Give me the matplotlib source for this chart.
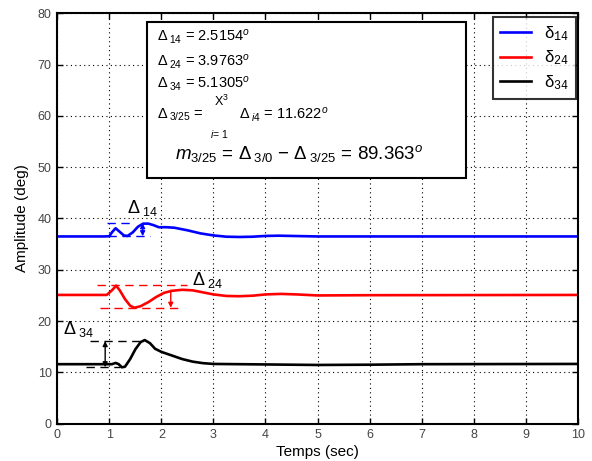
import matplotlib
matplotlib.use("Agg")
import matplotlib.pyplot as plt
from matplotlib.patches import Rectangle

plt.rcParams['font.family'] = ['Liberation Sans', 'DejaVu Sans']
plt.rcParams['mathtext.fontset'] = 'custom'
plt.rcParams['mathtext.rm'] = 'Liberation Sans'
plt.rcParams['mathtext.it'] = 'Liberation Sans:italic'
plt.rcParams['mathtext.bf'] = 'Liberation Sans:bold'
plt.rcParams['mathtext.tt'] = 'Liberation Mono'

# ---- data ----
t_blue = [0, 0.9, 1.0, 1.05, 1.12, 1.2, 1.28, 1.35, 1.45, 1.55, 1.65, 1.75, 1.85, 1.95,
          2.1, 2.25, 2.5, 2.75, 3.0, 3.25, 3.5, 3.75, 4.0, 4.25, 4.5, 5.0, 6.0, 10.0]
d14 = [36.5, 36.5, 36.55, 37.3, 38.1, 37.4, 36.7, 36.6, 37.3, 38.4, 39.0, 39.0, 38.7, 38.3,
       38.3, 38.2, 37.7, 37.1, 36.7, 36.45, 36.4, 36.45, 36.6, 36.65, 36.6, 36.5, 36.5, 36.5]

t_red = [0, 0.95, 1.05, 1.13, 1.2, 1.3, 1.4, 1.48, 1.6, 1.75, 1.9, 2.05, 2.2, 2.4, 2.6,
         2.8, 3.0, 3.25, 3.5, 3.75, 4.0, 4.3, 4.6, 5.0, 6.0, 10.0]
d24 = [25.1, 25.1, 26.0, 26.9, 26.0, 24.3, 23.0, 22.6, 22.9, 23.7, 24.7, 25.5, 25.9, 26.1, 26.0,
       25.6, 25.2, 24.9, 24.85, 24.95, 25.2, 25.3, 25.2, 25.0, 25.05, 25.1]

t_black = [0, 1.05, 1.12, 1.18, 1.24, 1.3, 1.4, 1.5, 1.6, 1.68, 1.78, 1.88, 2.0, 2.2, 2.4,
           2.6, 2.8, 3.0, 3.5, 4.0, 5.0, 6.0, 7.0, 10.0]
d34 = [11.6, 11.6, 11.85, 11.6, 11.0, 11.1, 12.6, 14.5, 15.9, 16.3, 15.7, 14.6, 14.0, 13.3, 12.6,
       12.1, 11.8, 11.65, 11.6, 11.55, 11.45, 11.5, 11.6, 11.65]

series_labels = [r'$\mathrm{\delta}_{\mathtt{14}}$', r'$\mathrm{\delta}_{\mathtt{24}}$',
                 r'$\mathrm{\delta}_{\mathtt{34}}$']
series_colors = ['#0000ff', '#ff0000', '#000000']

x_ticks = [0, 1, 2, 3, 4, 5, 6, 7, 8, 9, 10]
y_ticks = [0, 10, 20, 30, 40, 50, 60, 70, 80]

# annotation guides: (upper y, upper t-range, lower y, lower t-range, arrow t, arrow y-range)
g14 = dict(up=39.07, up_t=(0.96, 1.46), lo=36.55, lo_t=(0.98, 1.78), at=1.64, ay=(39.07, 36.55))
g24 = dict(up=27.0, up_t=(0.76, 2.49), lo=22.6, lo_t=(0.82, 2.40), at=2.18, ay=(26.0, 22.6))
g34 = dict(up=16.1, up_t=(0.63, 1.63), lo=11.0, lo_t=(0.56, 1.21), at=0.92, ay=(16.1, 11.0))

box_lines = [r'$\Delta_{\;14}$ = 2.5154$^o$',
             r'$\Delta_{\;24}$ = 3.9763$^o$',
             r'$\Delta_{\;34}$ = 5.1305$^o$']

W, H = 592, 461
fig = plt.figure(figsize=(W / 100, H / 100), dpi=100)
fig.patch.set_facecolor('white')

def fx(px):
    return px / W

def fy(py):
    return 1 - py / H

ax = fig.add_axes([fx(57.3), fy(423.7), (577.7 - 57.3) / W, (423.7 - 13.3) / H])

lines = []
for t, d, c, lab in zip([t_blue, t_red, t_black], [d14, d24, d34], series_colors, series_labels):
    ln, = ax.plot(t, d, color=c, lw=1.9, label=lab, solid_joinstyle='round')
    lines.append(ln)

ax.set_xlim(0, 10)
ax.set_ylim(0, 80)
ax.set_xticks(x_ticks)
ax.set_yticks(y_ticks)
ax.grid(True, color='black', linestyle=(0, (1, 3)), linewidth=0.8)
ax.tick_params(direction='in', top=True, right=True, length=4, width=1,
               labelsize=9, labelcolor='#444444', pad=4)
for s in ax.spines.values():
    s.set_linewidth(1.5)

ax.set_xlabel('Temps (sec)', fontsize=11, labelpad=3)
ax.set_ylabel('Amplitude (deg)', fontsize=11, labelpad=6)

# guides and arrows
for g, c in zip([g14, g24, g34], series_colors):
    ax.plot(g['up_t'], [g['up'], g['up']], color=c, lw=1.0, dashes=(6, 4))
    ax.plot(g['lo_t'], [g['lo'], g['lo']], color=c, lw=1.0, dashes=(6, 4))
for g, c, style in [(g14, series_colors[0], '<|-|>'), (g24, series_colors[1], '-|>'),
                    (g34, series_colors[2], '<|-|>')]:
    ax.annotate('', xy=(g['at'], g['ay'][1]), xytext=(g['at'], g['ay'][0]),
                arrowprops=dict(arrowstyle=style, color=c, lw=1.0,
                                mutation_scale=7, shrinkA=0, shrinkB=0))

ax.text(1.33, 41.0, r'$\Delta_{\;14}$', fontsize=13, va='baseline')
ax.text(2.58, 27.0, r'$\Delta_{\;24}$', fontsize=13, va='baseline')
ax.text(0.10, 17.5, r'$\Delta_{\;34}$', fontsize=13, va='baseline')

# legend
leg = ax.legend(handles=lines, loc='upper left',
                bbox_to_anchor=(fx(492.7), fy(16.7)), bbox_transform=fig.transFigure,
                fontsize=12, handlelength=1.85, labelspacing=0.35, borderpad=0.45,
                handletextpad=0.75, frameon=True, fancybox=False, borderaxespad=0)
leg.get_frame().set_edgecolor('black')
leg.get_frame().set_linewidth(1.5)

# text box
rect = Rectangle((fx(147.3), fy(178)), (465.7 - 147.3) / W, (178 - 21.7) / H,
                 transform=fig.transFigure, facecolor='white', edgecolor='black',
                 linewidth=1.5, zorder=5)
fig.patches.append(rect)

for i, s in enumerate(box_lines):
    fig.text(fx(156.7), fy([36.7, 61.7, 83.5][i]), s, fontsize=10.5, va='center', zorder=6)
fig.text(fx(156.7), fy(115), r'$\Delta_{\;3/25}$ =', fontsize=10.5, va='center', zorder=6)
fig.text(fx(214), fy(101), r'X$^3$', fontsize=9, va='center', zorder=6)
fig.text(fx(210), fy(134), r'$i$= 1', fontsize=7.5, va='center', zorder=6)
fig.text(fx(239), fy(115), r'$\Delta_{\;i4}$ = 11.622$^o$', fontsize=10.5, va='center', zorder=6)
fig.text(fx(175), fy(153), r'$m_{3/25}$ = $\Delta_{\;3/0}$ $-$ $\Delta_{\;3/25}$ = 89.363$^o$',
         fontsize=13.5, va='center', zorder=6)

fig.savefig('out.png', dpi=100)
